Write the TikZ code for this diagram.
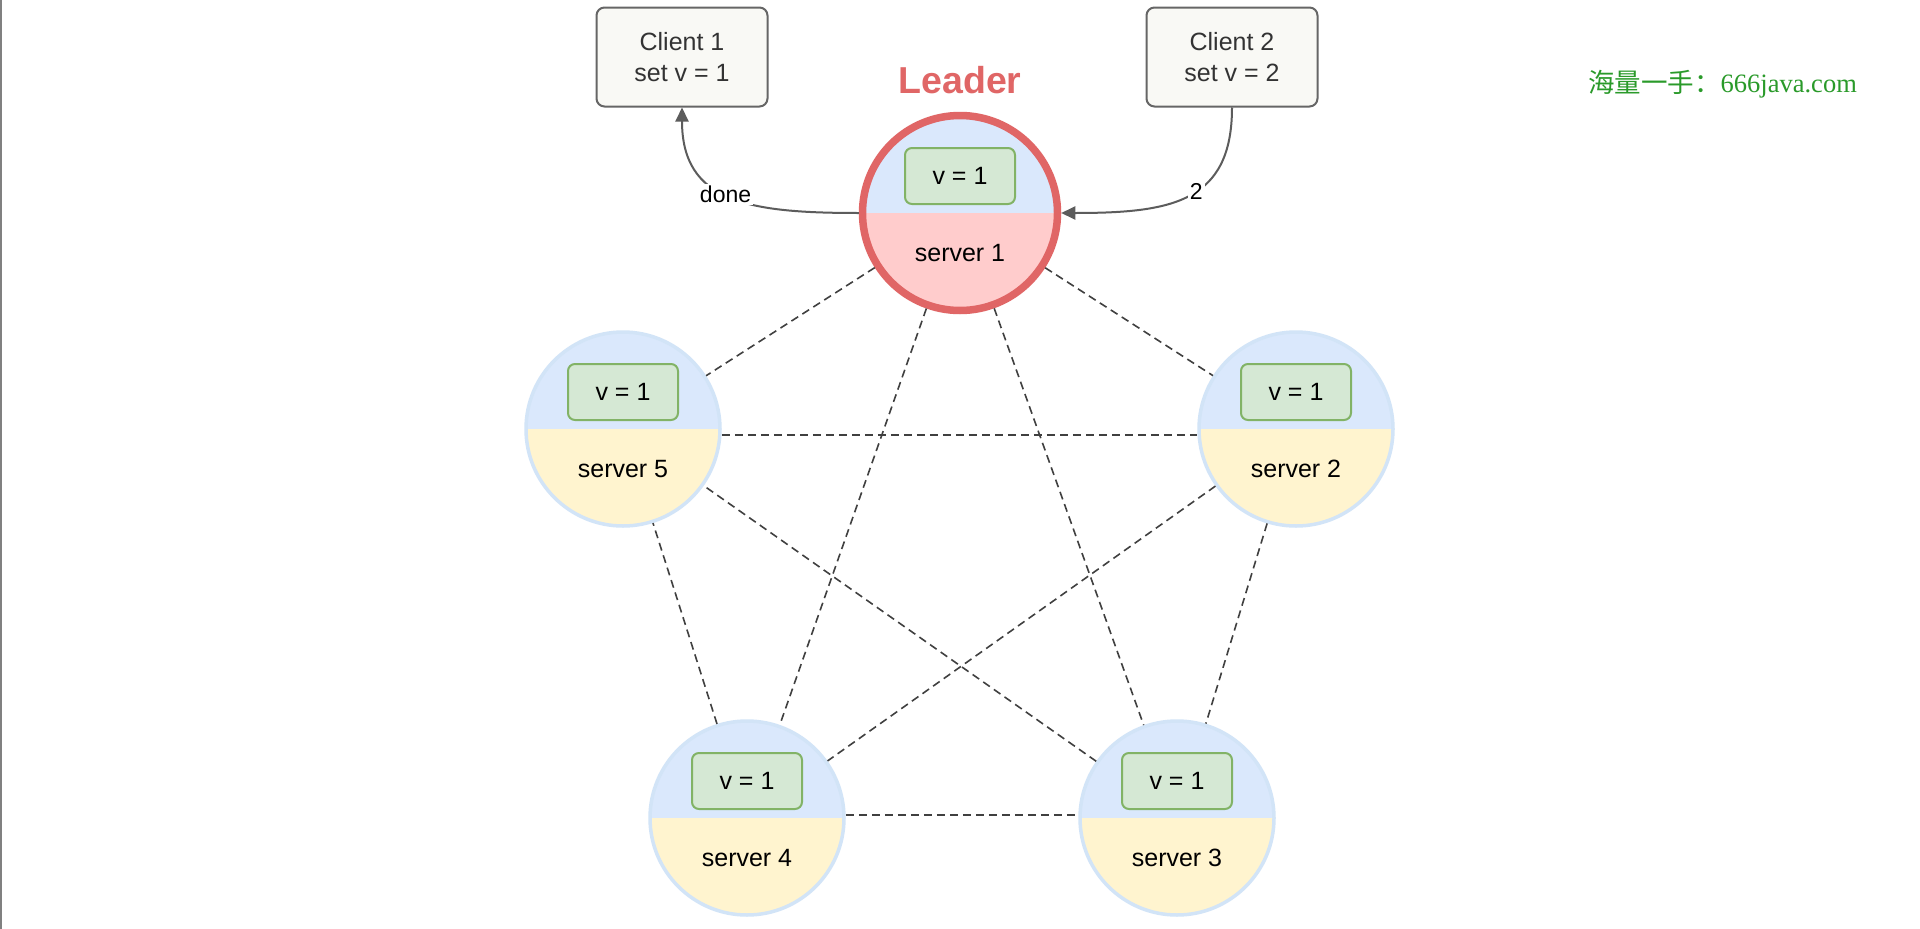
\documentclass[tikz,border=0pt]{standalone}
\usepackage{fontspec}
\setmainfont{Liberation Sans}
\newfontfamily\cjk{Noto Sans CJK SC}
\newfontfamily\wmserif{Liberation Serif}
\usetikzlibrary{arrows.meta}
\definecolor{topfill}{HTML}{DAE8FC}
\definecolor{yelfill}{HTML}{FFF4CF}
\definecolor{pinkfill}{HTML}{FFCCCC}
\definecolor{srvring}{HTML}{D2E4F7}
\definecolor{leadred}{HTML}{E06666}
\definecolor{vfill}{HTML}{D5E8D4}
\definecolor{vdraw}{HTML}{82B366}
\definecolor{clfill}{HTML}{F9F9F5}
\definecolor{cldraw}{HTML}{666666}
\definecolor{txtgrey}{HTML}{333333}
\definecolor{wmgreen}{HTML}{2A9A2A}
\definecolor{linkgrey}{HTML}{404040}
\definecolor{arrgrey}{HTML}{5C5C5C}
\tikzset{
  server/.style={circle, inner sep=0pt, minimum size=194pt, line width=3.5pt, draw=srvring,
    path picture={\fill[topfill] (path picture bounding box.north west) rectangle (path picture bounding box.east);
                  \fill[#1] (path picture bounding box.west) rectangle (path picture bounding box.south east);}},
  vbox/.style={draw=vdraw, fill=vfill, line width=2pt, rounded corners=7pt, minimum width=110pt, minimum height=56pt,
    inner sep=0pt, font=\fontsize{25}{30}\selectfont, text=black},
  srvlabel/.style={inner sep=0pt, font=\fontsize{25}{30}\selectfont, text=black},
  client/.style={draw=cldraw, fill=clfill, line width=2pt, rounded corners=8pt, minimum width=171pt, minimum height=99pt,
    inner sep=0pt, align=center, font=\fontsize{25}{31}\selectfont, text=txtgrey},
  link/.style={draw=linkgrey, line width=1.6pt, dash pattern=on 8pt off 5pt},
  arr/.style={draw=arrgrey, line width=2pt, -{Triangle[length=14pt,width=13pt]}},
  lbl/.style={fill=white, inner sep=2pt, font=\fontsize{23}{28}\selectfont, text=black},
}
\begin{document}
\begin{tikzpicture}[x=1pt, y=-1pt]
\useasboundingbox (0,0) rectangle (1920,929);
\fill[white] (0,0) rectangle (1920,929);
\draw[gray, line width=2pt] (1,0) -- (1,929);

% servers
\node[server=pinkfill, draw=leadred, line width=7.5pt, minimum size=195pt] (s1) at (960,213) {};
\node[server=yelfill] (s2) at (1296,429) {};
\node[server=yelfill] (s3) at (1177,818) {};
\node[server=yelfill] (s4) at (747,818) {};
\node[server=yelfill] (s5) at (623,429) {};

\foreach \i in {1,...,5} {
  \node[vbox] (v\i) at ([yshift=37pt]s\i.center) {v = 1};
  \node[srvlabel] (t\i) at ([yshift=-40pt]s\i.center) {server \i};
}

% links
\draw[link] (s1) -- (s2);
\draw[link] (s1) -- (s3);
\draw[link] (s1) -- (s4);
\draw[link] (s1) -- (s5);
\draw[link] (s2) -- (s3);
\draw[link] (s2) -- (s4);
\draw[link] ([yshift=-6pt]s5.east) -- ([yshift=-6pt]s2.west);
\draw[link] ([yshift=3pt]s4.east) -- ([yshift=3pt]s3.west);
\draw[link] (s3) -- (s5);
\draw[link] (s4) -- (s5);

% leader
\node[inner sep=0pt, text=leadred, font=\fontsize{37.5}{40}\selectfont\bfseries] (lead) at (960,80) {Leader};

% clients
\node[client] (c1) at (682,57) {Client 1\\set v = 1};
\node[client] (c2) at (1232,57) {Client 2\\set v = 2};

\draw[arr] (s1.west) .. controls +(-110,0) and +(0,95) .. node[lbl, pos=0.52] {done} (c1.south);
\draw[arr] (c2.south) .. controls +(0,95) and +(110,0) .. node[lbl, pos=0.45] {2} (s1.east);

% watermark
\node[anchor=west, inner sep=0pt, text=wmgreen, font=\fontsize{26.5}{30}\selectfont] (wm) at (1588,84)
  {{\cjk 海量一手：}{\wmserif 666java.com}};
\end{tikzpicture}
\end{document}
